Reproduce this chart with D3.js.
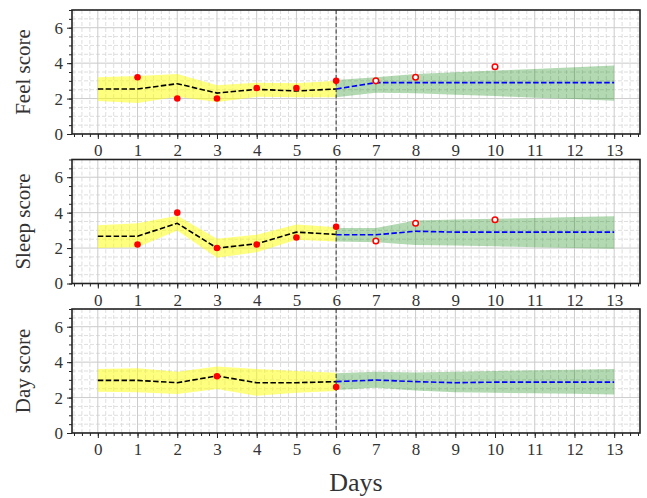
<!DOCTYPE html>
<html>
<head>
<meta charset="utf-8">
<script src="https://cdn.jsdelivr.net/npm/d3@7"></script>
<style>
  body { margin: 0; background: #fff; }
  svg { display: block; }
  text { font-family: "Liberation Serif", "DejaVu Serif", serif; }
</style>
</head>
<body>
<svg id="chart"></svg>
<script>
const w = 647;
const h = 498;

// days
const obsDays = [0, 1, 2, 3, 4, 5, 6];
const foreDays = [6, 7, 8, 9, 10, 11, 12, 13];
const xTicks = [0, 1, 2, 3, 4, 5, 6, 7, 8, 9, 10, 11, 12, 13];
const yTicks = [0, 2, 4, 6];

// Feel score
const feelMean = [2.54, 2.54, 2.84, 2.31, 2.52, 2.43, 2.54];
const feelLow = [1.86, 1.75, 2.1, 1.8, 2.1, 2.07, 2.07];
const feelHigh = [3.2, 3.27, 3.39, 2.75, 2.9, 2.86, 3.0];
const feelForeMean = [2.54, 2.9, 2.9, 2.9, 2.9, 2.9, 2.9, 2.9];
const feelForeLow = [2.07, 2.33, 2.3, 2.22, 2.14, 2.05, 1.97, 1.88];
const feelForeHigh = [3.05, 3.2, 3.39, 3.48, 3.58, 3.67, 3.77, 3.86];
const feelDotDays = [1, 2, 3, 4, 5, 6];
const feelDots = [3.2, 2.0, 2.0, 2.6, 2.6, 3.0];
const feelFutureDays = [7, 8, 10];
const feelFuture = [3.0, 3.2, 3.8];

// Sleep score
const sleepMean = [2.67, 2.67, 3.4, 2.0, 2.24, 2.9, 2.77];
const sleepLow = [2.01, 2.05, 2.99, 1.45, 1.77, 2.47, 2.37];
const sleepHigh = [3.29, 3.4, 3.82, 2.52, 2.75, 3.33, 3.18];
const sleepForeMean = [2.75, 2.75, 2.95, 2.9, 2.9, 2.9, 2.9, 2.9];
const sleepForeLow = [2.37, 2.33, 2.18, 2.14, 2.1, 2.05, 2.0, 1.96];
const sleepForeHigh = [3.14, 3.14, 3.56, 3.61, 3.66, 3.7, 3.75, 3.8];
const sleepDotDays = [1, 2, 3, 4, 5, 6];
const sleepDots = [2.2, 4.0, 2.0, 2.2, 2.6, 3.2];
const sleepFutureDays = [7, 8, 10];
const sleepFuture = [2.4, 3.4, 3.6];

// Day score
const dayMean = [2.97, 2.97, 2.84, 3.22, 2.84, 2.84, 2.9];
const dayLow = [2.33, 2.3, 2.2, 2.48, 2.1, 2.27, 2.37];
const dayHigh = [3.61, 3.65, 3.46, 3.75, 3.61, 3.5, 3.4];
const dayForeMean = [2.9, 2.99, 2.9, 2.84, 2.87, 2.87, 2.87, 2.87];
const dayForeLow = [2.43, 2.56, 2.4, 2.3, 2.27, 2.24, 2.21, 2.18];
const dayForeHigh = [3.37, 3.46, 3.42, 3.46, 3.5, 3.54, 3.57, 3.61];
const dayDotDays = [3, 6];
const dayDots = [3.2, 2.6];
const dayFutureDays = [];
const dayFuture = [];

const panels = [
  { label: "Feel score", mean: feelMean, low: feelLow, high: feelHigh,
    fMean: feelForeMean, fLow: feelForeLow, fHigh: feelForeHigh,
    dotDays: feelDotDays, dots: feelDots, futDays: feelFutureDays, fut: feelFuture },
  { label: "Sleep score", mean: sleepMean, low: sleepLow, high: sleepHigh,
    fMean: sleepForeMean, fLow: sleepForeLow, fHigh: sleepForeHigh,
    dotDays: sleepDotDays, dots: sleepDots, futDays: sleepFutureDays, fut: sleepFuture },
  { label: "Day score", mean: dayMean, low: dayLow, high: dayHigh,
    fMean: dayForeMean, fLow: dayForeLow, fHigh: dayForeHigh,
    dotDays: dayDotDays, dots: dayDots, futDays: dayFutureDays, fut: dayFuture }
];

const left = 72, right = 640;
const tops = [10, 159.5, 309];
const ph = 124;

const svg = d3.select("#chart")
    .attr("width", w)
    .attr("height", h);

const xScale = d3.scaleLinear()
    .domain([-0.65, 13.65])
    .range([left, right]);

const xMinor = d3.range(-6, 137, 2).map(d => d / 10);
const yMinor = d3.range(0, 15).map(d => d / 2);

panels.forEach((p, i) => {
    const top = tops[i];
    const yScale = d3.scaleLinear()
        .domain([0, 7])
        .range([top + ph, top]);

    const g = svg.append("g");
    const clipId = "clip" + i;
    svg.append("clipPath").attr("id", clipId)
        .append("rect")
        .attr("x", left).attr("y", top)
        .attr("width", right - left).attr("height", ph);

    const plot = g.append("g").attr("clip-path", `url(#${clipId})`);

    // minor grid
    plot.selectAll(".vminor")
        .data(xMinor.filter(d => Math.abs(d - Math.round(d)) > 1e-6))
        .enter().append("line")
        .attr("x1", d => xScale(d)).attr("x2", d => xScale(d))
        .attr("y1", top).attr("y2", top + ph)
        .attr("stroke", "#d6d6d6").attr("stroke-width", 0.8)
        .attr("stroke-dasharray", "4,2");
    plot.selectAll(".hminor")
        .data(yMinor.filter(d => d % 2 !== 0))
        .enter().append("line")
        .attr("x1", left).attr("x2", right)
        .attr("y1", d => yScale(d)).attr("y2", d => yScale(d))
        .attr("stroke", "#d6d6d6").attr("stroke-width", 0.8)
        .attr("stroke-dasharray", "4,2");
    // major grid
    plot.selectAll(".vmajor")
        .data(xTicks)
        .enter().append("line")
        .attr("x1", d => xScale(d)).attr("x2", d => xScale(d))
        .attr("y1", top).attr("y2", top + ph)
        .attr("stroke", "#cbcbcb").attr("stroke-width", 1);
    plot.selectAll(".hmajor")
        .data(yTicks)
        .enter().append("line")
        .attr("x1", left).attr("x2", right)
        .attr("y1", d => yScale(d)).attr("y2", d => yScale(d))
        .attr("stroke", "#cbcbcb").attr("stroke-width", 1);

    // bands
    const obs = obsDays.map((d, j) => ({ x: d, m: p.mean[j], lo: p.low[j], hi: p.high[j] }));
    const fore = foreDays.map((d, j) => ({ x: d, m: p.fMean[j], lo: p.fLow[j], hi: p.fHigh[j] }));

    const area = d3.area()
        .x(d => xScale(d.x))
        .y0(d => yScale(d.lo))
        .y1(d => yScale(d.hi));
    const line = d3.line()
        .x(d => xScale(d.x))
        .y(d => yScale(d.m));

    plot.append("path").datum(obs)
        .attr("d", area)
        .attr("fill", "#ffff00").attr("fill-opacity", 0.5);
    plot.append("path").datum(fore)
        .attr("d", area)
        .attr("fill", "#008000").attr("fill-opacity", 0.3);

    plot.append("path").datum(fore)
        .attr("d", line)
        .attr("fill", "none").attr("stroke", "#0000ff")
        .attr("stroke-width", 1.6).attr("stroke-dasharray", "5.5,2.4");
    plot.append("path").datum(obs)
        .attr("d", line)
        .attr("fill", "none").attr("stroke", "#000")
        .attr("stroke-width", 1.6).attr("stroke-dasharray", "5.5,2.4");

    // split line at day 6
    plot.append("line")
        .attr("x1", xScale(6)).attr("x2", xScale(6))
        .attr("y1", top).attr("y2", top + ph)
        .attr("stroke", "#333").attr("stroke-width", 1)
        .attr("stroke-dasharray", "4,2.5");

    plot.selectAll(".dot")
        .data(p.dotDays.map((d, j) => [d, p.dots[j]]))
        .enter().append("circle")
        .attr("cx", d => xScale(d[0]))
        .attr("cy", d => yScale(d[1]))
        .attr("r", 3.3)
        .attr("fill", "#ff0000");

    plot.selectAll(".fut")
        .data(p.futDays.map((d, j) => [d, p.fut[j]]))
        .enter().append("circle")
        .attr("cx", d => xScale(d[0]))
        .attr("cy", d => yScale(d[1]))
        .attr("r", 2.8)
        .attr("fill", "#fff")
        .attr("stroke", "#ff0000")
        .attr("stroke-width", 1.5);

    // axes
    const xAxis = g.append("g")
        .attr("transform", `translate(0,${top + ph})`)
        .call(d3.axisBottom(xScale).tickValues(xTicks).tickSize(5).tickPadding(5).tickFormat(d3.format("d")));
    g.append("g")
        .attr("transform", `translate(0,${top + ph})`)
        .call(d3.axisBottom(xScale).tickValues(xMinor).tickSize(3).tickFormat(""))
        .call(a => a.select(".domain").remove());
    const yAxis = g.append("g")
        .attr("transform", `translate(${left},0)`)
        .call(d3.axisLeft(yScale).tickValues(yTicks).tickSize(5).tickPadding(4).tickFormat(d3.format("d")));
    g.append("g")
        .attr("transform", `translate(${left},0)`)
        .call(d3.axisLeft(yScale).tickValues(yMinor).tickSize(3).tickFormat(""))
        .call(a => a.select(".domain").remove());

    [xAxis, yAxis].forEach(a => {
        a.select(".domain").remove();
        a.selectAll("text")
            .attr("fill", "#333")
            .style("font-size", "17px")
            .style("font-family", '"Liberation Serif", serif');
    });
    g.selectAll(".tick line").attr("stroke", "#222").attr("stroke-width", 1);

    // frame
    g.append("rect")
        .attr("x", left).attr("y", top)
        .attr("width", right - left).attr("height", ph)
        .attr("fill", "none")
        .attr("stroke", "#222")
        .attr("stroke-width", 1.6);

    g.append("text")
        .attr("transform", `translate(30,${top + ph / 2}) rotate(-90)`)
        .attr("text-anchor", "middle")
        .attr("fill", "#333")
        .style("font-size", "21px")
        .text(p.label);
});

svg.append("text")
    .attr("x", (left + right) / 2)
    .attr("y", 491)
    .attr("text-anchor", "middle")
    .attr("fill", "#333")
    .style("font-size", "26px")
    .text("Days");
</script>
</body>
</html>
